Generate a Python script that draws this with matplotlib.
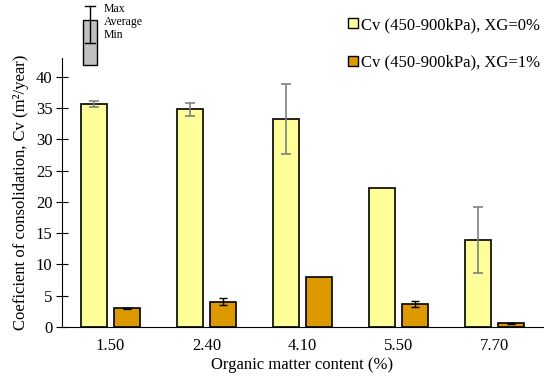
import numpy as np
import matplotlib.pyplot as plt
from matplotlib.lines import Line2D
from matplotlib.patches import Rectangle

plt.rcParams['font.family'] = ['Liberation Serif', 'DejaVu Serif']

# organic matter content categories
categorias = ["1.50", "2.40", "4.10", "5.50", "7.70"]

# Cv (450-900kPa), XG=0%
cv_xg0 = [35.6, 34.9, 33.2, 22.2, 13.9]
cv_xg0_min = [35.2, 33.7, 27.6, 22.2, 8.6]
cv_xg0_max = [36.1, 35.8, 38.8, 22.2, 19.2]

# Cv (450-900kPa), XG=1%
cv_xg1 = [3.0, 4.0, 8.0, 3.6, 0.6]
cv_xg1_min = [2.9, 3.5, 8.0, 3.2, 0.5]
cv_xg1_max = [3.1, 4.6, 8.0, 4.1, 0.7]

amarillo = "#ffff99"
naranja = "#dc9a00"

x = np.arange(len(categorias))
w = 0.27
off = 0.17

fig = plt.figure(figsize=(5.5, 3.81), dpi=100)
ax = fig.add_axes([0.113, 0.142, 0.874, 0.706])

def errores(v, lo, hi):
    v = np.array(v); lo = np.array(lo); hi = np.array(hi)
    e = np.vstack([v - lo, hi - v])
    e[:, (hi - lo) == 0] = np.nan  # sin barra si no hay rango
    return e

ax.bar(x - off, cv_xg0, w, color=amarillo, edgecolor="black", linewidth=1.2, zorder=2)
ax.bar(x + off, cv_xg1, w, color=naranja, edgecolor="black", linewidth=1.2, zorder=2)
ax.errorbar(x - off, cv_xg0, yerr=errores(cv_xg0, cv_xg0_min, cv_xg0_max), fmt="none",
            ecolor="#808080", elinewidth=1.2, capsize=3.5, capthick=1.2, zorder=3)
ax.errorbar(x + off, cv_xg1, yerr=errores(cv_xg1, cv_xg1_min, cv_xg1_max), fmt="none",
            ecolor="black", elinewidth=1.0, capsize=3, capthick=1.0, zorder=3)

ax.set_xlim(-0.5, 4.5)
ax.set_ylim(0, 43)
ax.set_yticks(range(0, 41, 5))
ax.set_xticks(x)
ax.set_xticklabels(categorias)
ax.tick_params(axis="x", length=0, labelsize=12, pad=8)
ax.tick_params(axis="y", direction="inout", length=8, labelsize=12, pad=3)
ax.spines["top"].set_visible(False)
ax.spines["right"].set_visible(False)
ax.set_xlabel("Organic matter content (%)", fontsize=12, labelpad=2)
ax.set_ylabel("Coeficient of consolidation, Cv (m²/year)", fontsize=12, labelpad=5)

handles = [Line2D([], [], marker="s", linestyle="none", markersize=7, markerfacecolor=amarillo,
                  markeredgecolor="black", markeredgewidth=1.0),
           Line2D([], [], marker="s", linestyle="none", markersize=7, markerfacecolor=naranja,
                  markeredgecolor="black", markeredgewidth=1.0)]
fig.legend(handles, ["Cv (450-900kPa), XG=0%", "Cv (450-900kPa), XG=1%"],
           loc="upper right", bbox_to_anchor=(1.01, 0.995), frameon=False, fontsize=12,
           handletextpad=0.0, labelspacing=1.3, handlelength=1.0)

# max / average / min key
fig.patches.append(Rectangle((83 / 550, 1 - 65 / 381), 14 / 550, 45 / 381, transform=fig.transFigure,
                             facecolor="#c0c0c0", edgecolor="black", linewidth=1.0))
fig.lines.append(Line2D([90 / 550, 90 / 550], [1 - 6 / 381, 1 - 43 / 381], transform=fig.transFigure,
                        color="black", linewidth=1.0))
for yy in (6, 43):
    fig.lines.append(Line2D([85 / 550, 95 / 550], [1 - yy / 381, 1 - yy / 381],
                            transform=fig.transFigure, color="black", linewidth=1.0))
for t, yy in (("Max", 9), ("Average", 22), ("Min", 35)):
    fig.text(104 / 550, 1 - yy / 381, t, fontsize=8.5, va="center", ha="left")

fig.savefig("out.png", dpi=100)
